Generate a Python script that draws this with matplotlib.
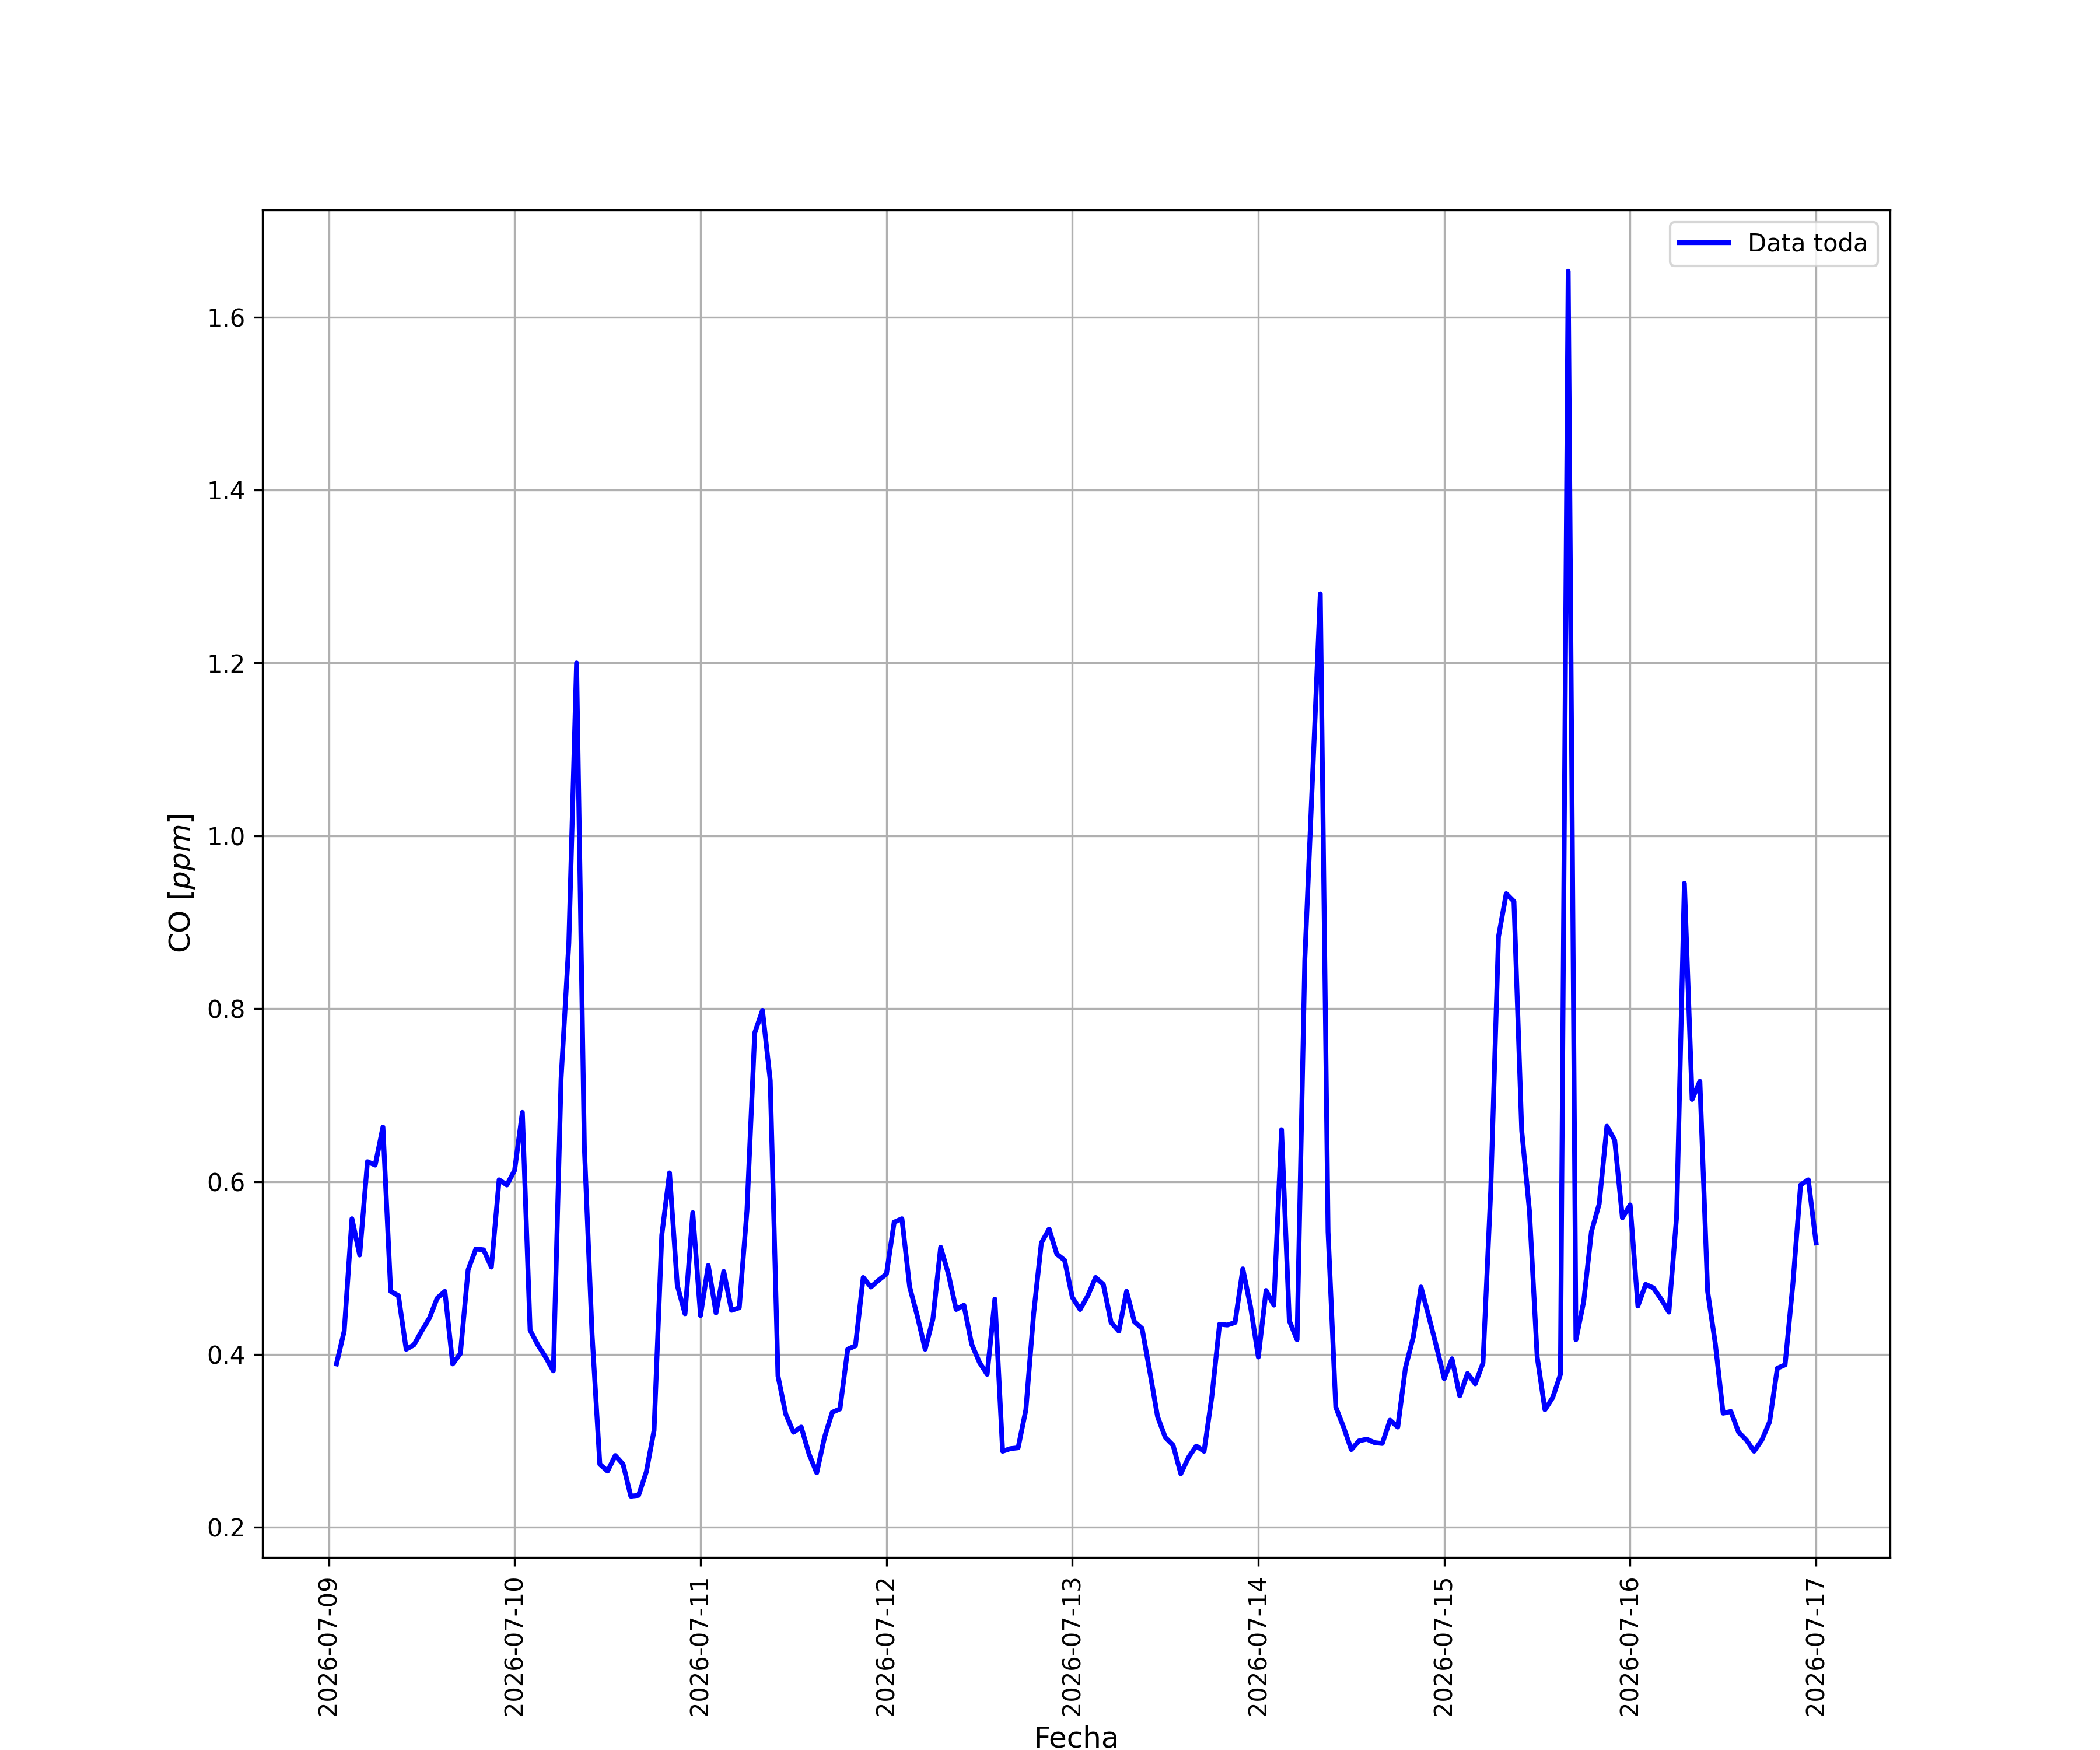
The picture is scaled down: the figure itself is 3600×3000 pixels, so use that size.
import matplotlib
matplotlib.use("Agg")
import matplotlib.pyplot as plt
import pandas as pd

inicio = "2026-07-09 01:00"
co = [
    0.389, 0.427, 0.557, 0.515, 0.623, 0.619, 0.663, 0.473, 0.468, 0.406,
    0.411, 0.427, 0.442, 0.465, 0.473, 0.389, 0.401, 0.498, 0.522, 0.521,
    0.501, 0.602, 0.596, 0.613, 0.680, 0.428, 0.411, 0.397, 0.381, 0.719,
    0.876, 1.200, 0.641, 0.423, 0.273, 0.265, 0.283, 0.273, 0.236, 0.237,
    0.264, 0.312, 0.538, 0.610, 0.480, 0.447, 0.564, 0.445, 0.503, 0.448,
    0.496, 0.451, 0.454, 0.567, 0.772, 0.798, 0.717, 0.375, 0.331, 0.310,
    0.316, 0.285, 0.263, 0.304, 0.333, 0.337, 0.406, 0.410, 0.489, 0.478,
    0.486, 0.493, 0.553, 0.557, 0.478, 0.444, 0.406, 0.441, 0.524, 0.493,
    0.452, 0.457, 0.412, 0.391, 0.377, 0.464, 0.288, 0.291, 0.292, 0.336,
    0.447, 0.529, 0.545, 0.516, 0.509, 0.466, 0.452, 0.468, 0.489, 0.481,
    0.437, 0.427, 0.473, 0.438, 0.430, 0.380, 0.328, 0.304, 0.295, 0.262,
    0.281, 0.294, 0.288, 0.351, 0.435, 0.434, 0.437, 0.499, 0.455, 0.397,
    0.474, 0.457, 0.660, 0.439, 0.417, 0.856, 1.068, 1.280, 0.542, 0.339,
    0.316, 0.290, 0.300, 0.302, 0.298, 0.297, 0.324, 0.316, 0.385, 0.420,
    0.478, 0.444, 0.409, 0.372, 0.395, 0.352, 0.378, 0.366, 0.390, 0.589,
    0.883, 0.933, 0.924, 0.659, 0.566, 0.397, 0.336, 0.350, 0.377, 1.653,
    0.417, 0.461, 0.542, 0.574, 0.664, 0.648, 0.558, 0.573, 0.456, 0.481,
    0.477, 0.464, 0.449, 0.560, 0.945, 0.695, 0.716, 0.473, 0.412, 0.332,
    0.334, 0.310, 0.301, 0.288, 0.301, 0.322, 0.384, 0.388, 0.481, 0.596,
    0.602, 0.529,
]
fechas = pd.date_range(start=inicio, periods=len(co), freq="h")

fig, ax = plt.subplots(figsize=(12, 10), dpi=300)
ax.plot(fechas, co, color="blue", linewidth=2, label="Data toda")
ax.grid(True)
ax.legend(loc="upper right")
ax.set_xlabel("Fecha", fontsize=12)
ax.set_ylabel("CO [$ppm$]", fontsize=12)
plt.setp(ax.get_xticklabels(), rotation=90)
fig.savefig("out.png", dpi=300)
